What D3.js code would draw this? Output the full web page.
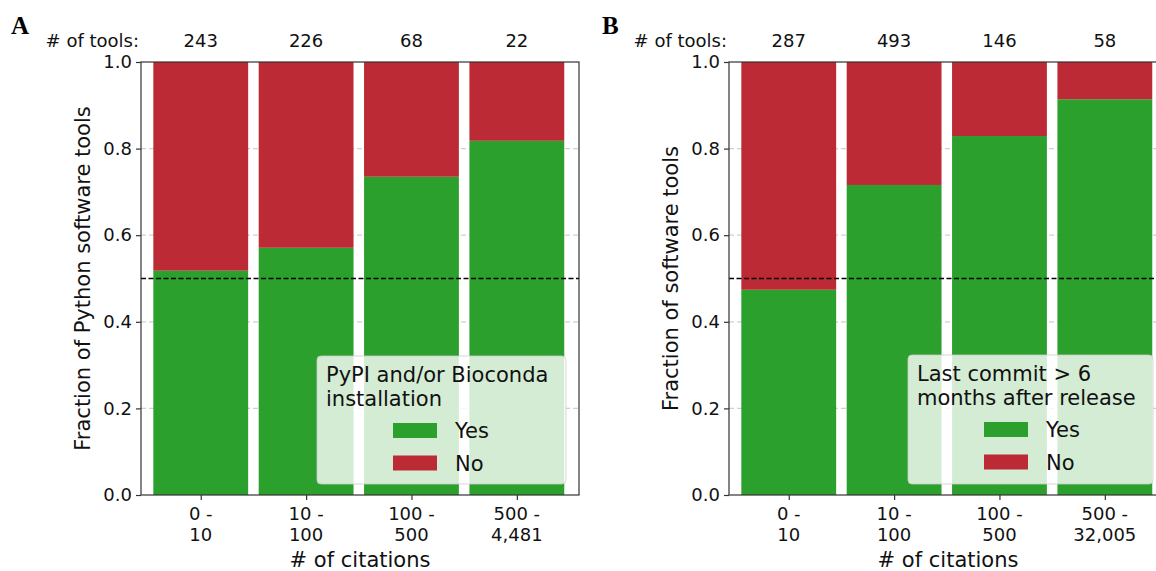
<!DOCTYPE html>
<html>
<head>
<meta charset="utf-8">
<script src="https://cdn.jsdelivr.net/npm/d3@7"></script>
<style>
  html, body { margin: 0; padding: 0; background: #fff; }
  svg { display: block; font-family: "DejaVu Sans", sans-serif; }
</style>
</head>
<body>
<svg id="chart" width="1156" height="571"></svg>
<script>
// ---- Data ----
const binsA = [["0 -", "10"], ["10 -", "100"], ["100 -", "500"], ["500 -", "4,481"]];
const binsB = [["0 -", "10"], ["10 -", "100"], ["100 -", "500"], ["500 -", "32,005"]];
const toolsA = [243, 226, 68, 22];
const toolsB = [287, 493, 146, 58];
const yesA = [0.518, 0.571, 0.735, 0.818];
const noA  = [0.482, 0.429, 0.265, 0.182];
const yesB = [0.474, 0.716, 0.829, 0.914];
const noB  = [0.526, 0.284, 0.171, 0.086];
const seriesNames = ["Yes", "No"];
const yTicks = [0, 0.2, 0.4, 0.6, 0.8, 1.0];
const refLine = 0.5;

const colors = { Yes: "#2ca02c", No: "#bc2a35" };

const svg = d3.select("#chart");

function panel(opts) {
  const { left, right, top, bottom, bins, tools, yes, no, ylabel, legendTitle, letter, letterX, legendBox } = opts;
  const g = svg.append("g");
  const n = bins.length;
  const x = d3.scaleLinear().domain([-0.567, n - 1 + 0.59]).range([left, right]);
  const y = d3.scaleLinear().domain([0, 1]).range([bottom, top]);
  const bw = x(0.9) - x(0);

  const clipId = "clip" + letter;
  svg.append("clipPath").attr("id", clipId).append("rect")
    .attr("x", left).attr("y", top).attr("width", right - left).attr("height", bottom - top);

  // gridlines
  g.append("g").selectAll("line").data(yTicks.slice(1, -1)).join("line")
    .attr("x1", left).attr("x2", right)
    .attr("y1", d => y(d)).attr("y2", d => y(d))
    .attr("stroke", "#d0d0d0").attr("stroke-width", 1.2).attr("stroke-dasharray", "5,3");

  // stacked bars
  const rows = bins.map((b, i) => ({ i, Yes: yes[i], No: no[i] }));
  const stacked = d3.stack().keys(seriesNames)(rows);
  g.append("g").attr("clip-path", `url(#${clipId})`).selectAll("g").data(stacked).join("g")
    .attr("fill", d => colors[d.key])
    .selectAll("rect").data(d => d).join("rect")
    .attr("x", d => x(d.data.i) - bw / 2)
    .attr("width", bw)
    .attr("y", d => y(Math.min(d[1], 1)))
    .attr("height", d => y(d[0]) - y(Math.min(d[1], 1)));

  // reference dashed line
  g.append("line").attr("clip-path", `url(#${clipId})`)
    .attr("x1", left).attr("x2", right).attr("y1", y(refLine)).attr("y2", y(refLine))
    .attr("stroke", "#000").attr("stroke-width", 1.3).attr("stroke-dasharray", "5,2.5");

  // spines
  g.append("rect").attr("x", left).attr("y", top).attr("width", right - left).attr("height", bottom - top)
    .attr("fill", "none").attr("stroke", "#333").attr("stroke-width", 1.2);

  // y axis
  const yAxis = d3.axisLeft(y).tickValues(yTicks).tickFormat(d3.format(".1f")).tickSize(5).tickPadding(4);
  const ya = g.append("g").attr("transform", `translate(${left},0)`).call(yAxis);
  ya.select(".domain").remove();
  ya.selectAll(".tick line").attr("stroke", "#333").attr("stroke-width", 1.2);
  ya.selectAll(".tick text").attr("font-size", 18).attr("fill", "#111")
    .attr("font-family", "DejaVu Sans, sans-serif");

  // x axis
  const xAxis = d3.axisBottom(x).tickValues(d3.range(n)).tickFormat("").tickSize(5);
  const xa = g.append("g").attr("transform", `translate(0,${bottom})`).call(xAxis);
  xa.select(".domain").remove();
  xa.selectAll(".tick line").attr("stroke", "#333").attr("stroke-width", 1.2);
  const xl = g.append("g");
  bins.forEach((lines, i) => {
    const t = xl.append("text").attr("text-anchor", "middle").attr("font-size", 18).attr("fill", "#111");
    lines.forEach((ln, k) => {
      t.append("tspan").attr("x", x(i)).attr("y", bottom + 25 + k * 21).text(ln);
    });
  });

  // x label
  g.append("text").attr("x", (left + right) / 2).attr("y", 567)
    .attr("text-anchor", "middle").attr("font-size", 21).attr("fill", "#111").text("# of citations");

  // y label
  g.append("text").attr("transform", `translate(${opts.ylabelX},${(top + bottom) / 2}) rotate(-90)`)
    .attr("text-anchor", "middle").attr("font-size", 21).attr("fill", "#111").text(ylabel);

  // tool counts
  g.append("text").attr("x", left - 2).attr("y", 47).attr("text-anchor", "end")
    .attr("font-size", 18).attr("fill", "#111").text("# of tools:");
  g.selectAll(".cnt").data(tools).join("text").attr("class", "cnt")
    .attr("x", (d, i) => x(i)).attr("y", 47).attr("text-anchor", "middle")
    .attr("font-size", 18).attr("fill", "#111").text(d => d);

  // panel letter
  g.append("text").attr("x", letterX).attr("y", 34)
    .attr("font-family", "Liberation Serif, Times New Roman, serif").attr("font-weight", "bold")
    .attr("font-size", 25).attr("fill", "#000").text(letter);

  // legend
  const lg = g.append("g");
  lg.append("rect").attr("x", legendBox.x).attr("y", legendBox.y)
    .attr("width", legendBox.w).attr("height", legendBox.h).attr("rx", 4)
    .attr("fill", "#fff").attr("fill-opacity", 0.8)
    .attr("stroke", "#ccc").attr("stroke-opacity", 0.8).attr("stroke-width", 1);
  legendTitle.forEach((ln, k) => {
    lg.append("text").attr("x", legendBox.x + 9).attr("y", legendBox.y + 26 + k * 23.5)
      .attr("font-size", 21).attr("fill", "#111").text(ln);
  });
  seriesNames.forEach((s, k) => {
    const yy = legendBox.y + 67 + k * 32.5;
    lg.append("rect").attr("x", legendBox.x + 76).attr("y", yy).attr("width", 44).attr("height", 15)
      .attr("fill", colors[s]);
    lg.append("text").attr("x", legendBox.x + 138).attr("y", yy + 15)
      .attr("font-size", 21).attr("fill", "#111").text(s);
  });
}

panel({
  left: 141, right: 579, top: 62, bottom: 495,
  bins: binsA, tools: toolsA, yes: yesA, no: noA,
  ylabel: "Fraction of Python software tools", ylabelX: 90,
  legendTitle: ["PyPI and/or Bioconda", "installation"],
  letter: "A", letterX: 11,
  legendBox: { x: 317, y: 356, w: 249, h: 128 }
});
panel({
  left: 729, right: 1167, top: 62, bottom: 495,
  bins: binsB, tools: toolsB, yes: yesB, no: noB,
  ylabel: "Fraction of software tools", ylabelX: 678,
  legendTitle: ["Last commit > 6", "months after release"],
  letter: "B", letterX: 602,
  legendBox: { x: 908, y: 355, w: 245, h: 129 }
});
</script>
</body>
</html>
